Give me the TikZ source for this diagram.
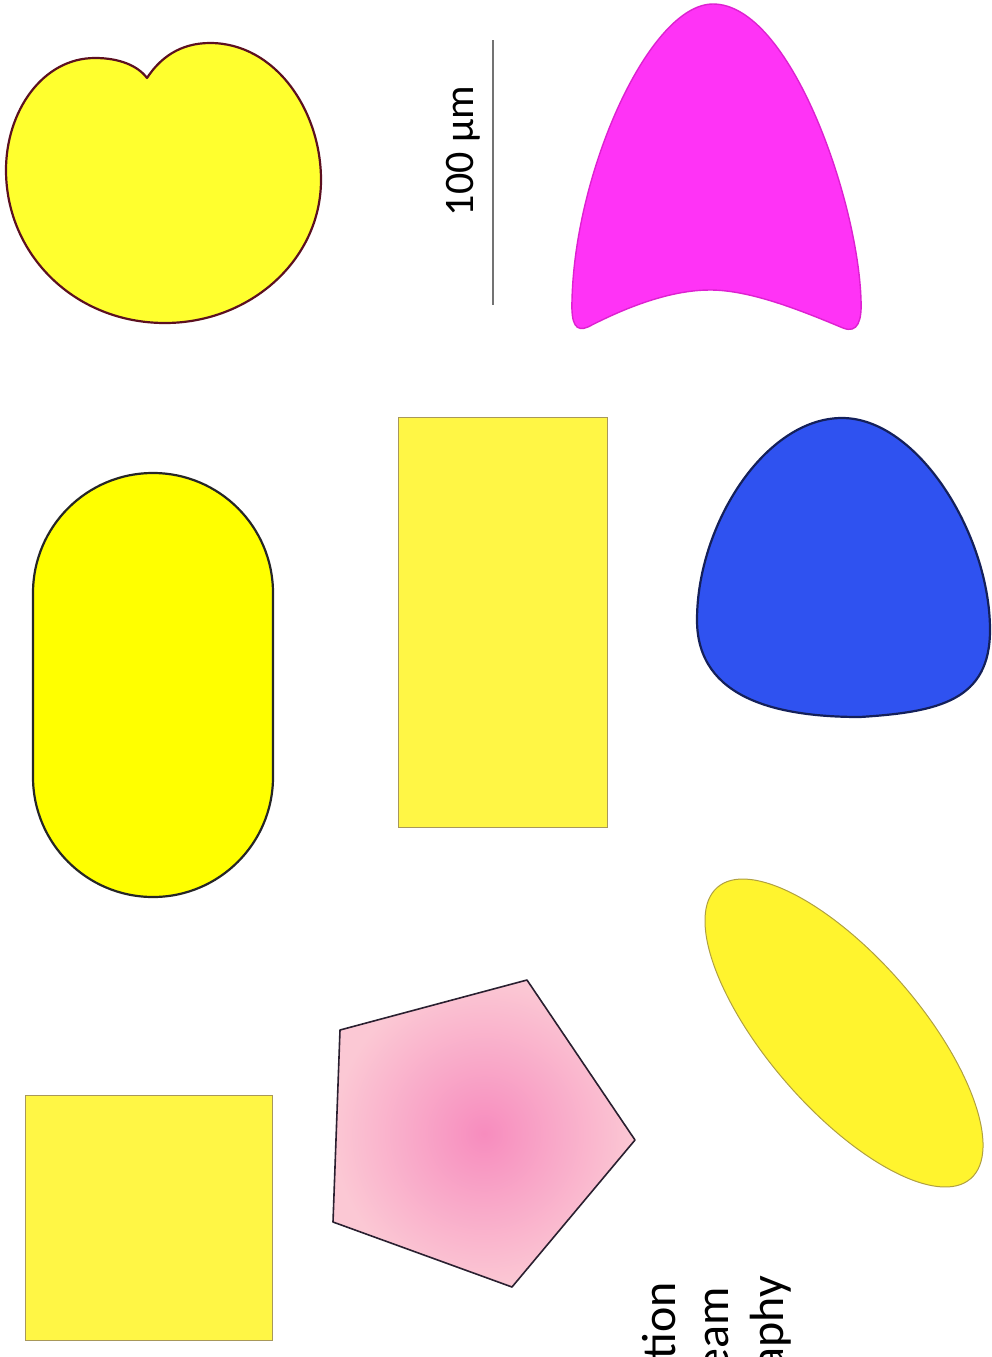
\documentclass[tikz,border=0pt]{standalone}
\usepackage{fontspec}
\setmainfont{Carlito}
\usepackage{tikz}
\usetikzlibrary{positioning}
\definecolor{heartFill}{HTML}{FFFF2E}
\definecolor{heartLine}{HTML}{5C1020}
\definecolor{hornFill}{HTML}{FF33F6}
\definecolor{hornLine}{HTML}{DD22D0}
\definecolor{blobFill}{HTML}{2F52F0}
\definecolor{blobLine}{HTML}{14205A}
\definecolor{pillFill}{HTML}{FFFF00}
\definecolor{boxFill}{HTML}{FFF645}
\definecolor{boxLine}{HTML}{A8985A}
\definecolor{penInner}{HTML}{F78CBE}
\definecolor{penOuter}{HTML}{FBC8D4}
\definecolor{penLine}{HTML}{2A2030}
\definecolor{ovalFill}{HTML}{FFF42E}
\definecolor{ovalLine}{HTML}{B0A040}

\begin{document}
\begin{tikzpicture}[x=1pt, y=-1pt,
  cell/.style={line width=2.2pt, line join=round},
  flat/.style={line width=1pt},
  lbl/.style={font=\fontsize{42}{50}\selectfont, inner sep=0pt, rotate=90},
  tailtext/.style={font=\fontsize{48}{56}\selectfont, inner sep=0pt, rotate=90, anchor=base east},
  bar/.style={line width=1.5pt, draw=black!55}
]
\clip (0,0) rectangle (992,1357);

\draw[cell, draw=heartLine, fill=heartFill] (147,78)
  .. controls (160,58) and (180,43) .. (210,43)
  .. controls (275,43) and (321,110) .. (321,180)
  .. controls (321,260) and (250,323) .. (165,323)
  .. controls (75,323) and (6,255) .. (6,170)
  .. controls (6,112) and (42,58) .. (95,58)
  .. controls (120,58) and (138,66) .. (147,78) -- cycle;

\coordinate (barTop) at (493,40);
\coordinate (barBot) at (493,305);
\draw[bar] (barTop) -- (barBot);
\node[lbl, anchor=base] (barText) at (473,151) {100 µm};

\draw[cell, line width=1.4pt, draw=hornLine, fill=hornFill] (713,4)
  .. controls (650,4) and (575,170) .. (572,300)
  .. controls (571,325) and (576,332) .. (588,327)
  .. controls (640,300) and (680,290) .. (710,290)
  .. controls (750,290) and (800,310) .. (843,328)
  .. controls (858,334) and (862,320) .. (861,300)
  .. controls (858,200) and (790,4) .. (713,4) -- cycle;

\draw[cell, draw=black!85, fill=pillFill, rounded corners=120pt] (33,473) rectangle (273,897);

\draw[flat, draw=boxLine, fill=boxFill] (398,417) rectangle (607,827);

\draw[cell, draw=blobLine, fill=blobFill] (842,418)
  .. controls (918,418) and (990,535) .. (990,630)
  .. controls (990,700) and (940,712) .. (860,717)
  .. controls (780,717) and (697,700) .. (697,620)
  .. controls (697,525) and (765,418) .. (842,418) -- cycle;

\draw[flat, draw=boxLine, fill=boxFill] (25,1095) rectangle (272,1340);

\draw[cell, line width=1.6pt, draw=penLine, inner color=penInner, outer color=penOuter] (527,980) -- (635,1140) -- (512,1287) -- (333,1222) -- (340,1030) -- cycle;

\draw[flat, draw=ovalLine, fill=ovalFill, rotate around={-49:(844,1033)}] (844,1033) ellipse [x radius=193pt, y radius=76pt];

\node[tailtext] (capA) at (675,1282) {tion};
\node[tailtext] (capB) at (728,1287) {eam};
\node[tailtext] (capC) at (783,1276) {aphy};
\end{tikzpicture}
\end{document}
